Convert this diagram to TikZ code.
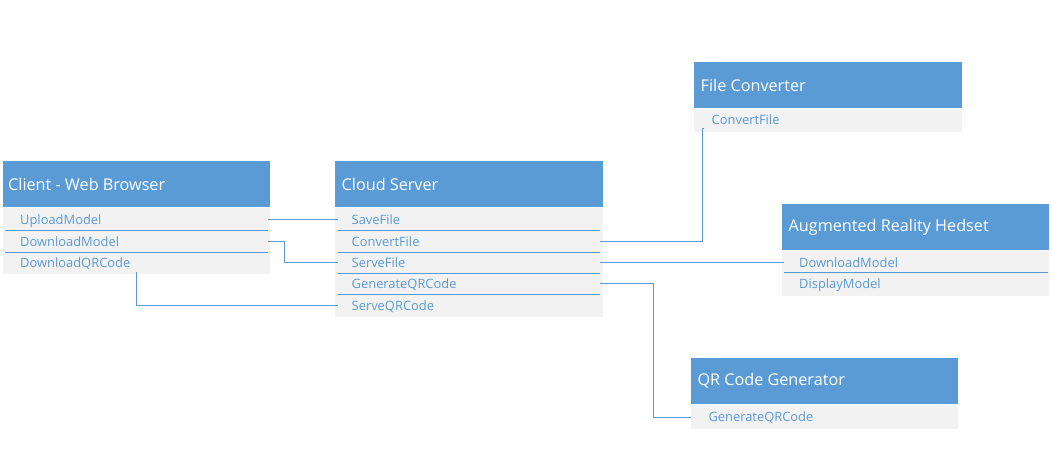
\documentclass[tikz,border=0pt]{standalone}
\usepackage{fontspec}
\setmainfont{Open Sans}
\usetikzlibrary{calc}
\definecolor{hdrblue}{HTML}{5B9BD5}
\definecolor{bodygray}{HTML}{F2F2F2}
\definecolor{linkblue}{HTML}{5B9BD5}
\definecolor{txtblue}{HTML}{5B9BD5}
\tikzset{
  hdr/.style={fill=hdrblue, draw=none, anchor=north west, minimum height=46pt, inner sep=0pt},
  hdrtext/.style={text=white, anchor=west, inner sep=0pt, font=\fontsize{16.2}{19}\selectfont},
  bodybox/.style={fill=bodygray, draw=none, anchor=north west, inner sep=0pt},
  rowtxt/.style={text=txtblue, anchor=west, inner ysep=0pt, align=left, minimum height=21pt,
    text height=11.5pt, text depth=2pt, font=\fontsize{12.9}{15}\selectfont},
  sepline/.style={draw=linkblue, line width=1pt},
  conn/.style={draw=linkblue, line width=1pt}
}
\begin{document}
\begin{tikzpicture}[x=1pt,y=-1pt]
\useasboundingbox[fill=white] (0,0) rectangle (1052,470);

% ---- Client - Web Browser
\node[hdr, minimum width=267pt] (clientH) at (3,161) {};
\node[hdrtext] (clientT) at ([xshift=5pt]clientH.west) {Client - Web Browser};
\node[bodybox, minimum width=267pt, minimum height=66pt] (clientB) at (3,208) {};
\node[rowtxt, inner xsep=15pt, text width=233pt] (cUpload) at (5,220) {UploadModel};
\node[rowtxt, inner xsep=15pt, text width=233pt] (cDown) at (5,241.5) {DownloadModel};
\node[rowtxt, inner xsep=15pt, text width=233pt] (cQR) at (5,262.5) {DownloadQRCode};
\draw[sepline] (5,230.75) -- (268,230.75);
\draw[sepline] (5,252.25) -- (268,252.25);

% ---- Cloud Server
\node[hdr, minimum width=268pt] (cloudH) at (335,161) {};
\node[hdrtext] (cloudT) at ([xshift=6.5pt]cloudH.west) {Cloud Server};
\node[bodybox, minimum width=268pt, minimum height=109pt] (cloudB) at (335,208) {};
\node[rowtxt, inner xsep=14pt, text width=234pt] (sSave) at (337.5,220) {SaveFile};
\node[rowtxt, inner xsep=14pt, text width=234pt] (sConv) at (337.5,241.5) {ConvertFile};
\node[rowtxt, inner xsep=14pt, text width=234pt] (sServe) at (337.5,262.5) {ServeFile};
\node[rowtxt, inner xsep=14pt, text width=234pt] (sGen) at (337.5,284) {GenerateQRCode};
\node[rowtxt, inner xsep=14pt, text width=234pt] (sServeQR) at (337.5,305.5) {ServeQRCode};
\draw[sepline] (337.5,230.75) -- (600,230.75);
\draw[sepline] (337.5,252.25) -- (600,252.25);
\draw[sepline] (337.5,273.75) -- (600,273.75);
\draw[sepline] (337.5,295) -- (600,295);

% ---- File Converter
\node[hdr, minimum width=268pt] (fcH) at (694,62) {};
\node[hdrtext] (fcT) at ([xshift=6.5pt]fcH.west) {File Converter};
\node[bodybox, minimum width=268pt, minimum height=23pt] (fcB) at (694,108.7) {};
\node[rowtxt, inner xsep=17.5pt, text width=233pt] (fConv) at (694,120.2) {ConvertFile};

% ---- Augmented Reality Hedset
\node[hdr, minimum width=267pt] (arH) at (782,204) {};
\node[hdrtext] (arT) at ([xshift=6.5pt]arH.west) {Augmented Reality Hedset};
\node[bodybox, minimum width=267pt, minimum height=44.7pt] (arB) at (782,251) {};
\node[rowtxt, inner xsep=15pt, text width=234pt] (aDown) at (784,262.5) {DownloadModel};
\node[rowtxt, inner xsep=15pt, text width=234pt] (aDisp) at (784,284) {DisplayModel};
\draw[sepline] (784,272.7) -- (1048,272.7);

% ---- QR Code Generator
\node[hdr, minimum width=267pt] (qrH) at (691,358) {};
\node[hdrtext] (qrT) at ([xshift=6.3pt]qrH.west) {QR Code Generator};
\node[bodybox, minimum width=267pt, minimum height=24pt] (qrB) at (691,405) {};
\node[rowtxt, inner xsep=17.3pt, text width=232pt] (qGen) at (691,417) {GenerateQRCode};

% ---- connectors
\draw[conn] (cUpload.east) -- (sSave.west);
\draw[conn] (cDown.east) -- ++(16,0) |- (sServe.west);
\draw[conn] ($(cQR.south west)+(131.5,-1)$) |- (sServeQR.west);
\draw[conn] (sConv.east) -- ++(103,0) |- ($(fConv.south west)+(9,-2.5)$);
\draw[conn] (sServe.east) -- (aDown.west);
\draw[conn] (sGen.east) -- ++(53.5,0) |- (qGen.west);
\end{tikzpicture}
\end{document}
